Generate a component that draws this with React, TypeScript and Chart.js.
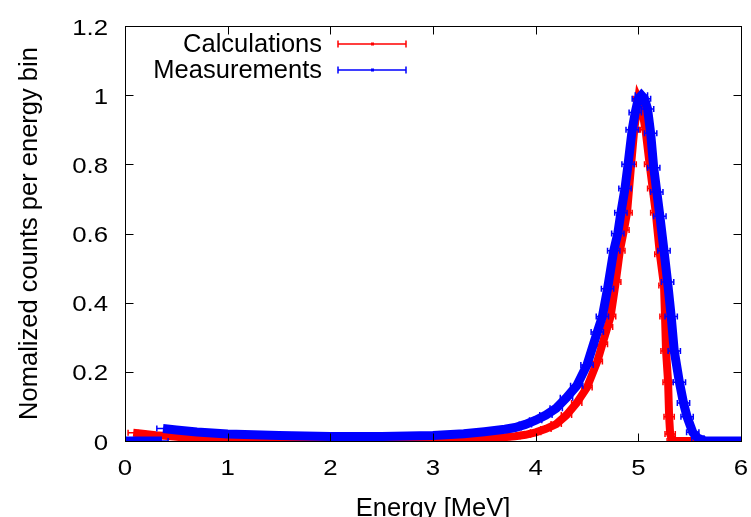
import React, { useEffect, useRef } from "react";
import { Chart, registerables } from "chart.js";

Chart.register(...registerables);

// ---- data ----
const xTickValues = [0, 1, 2, 3, 4, 5, 6];
const xTickLabels = ["0", "1", "2", "3", "4", "5", "6"];
const yTickValues = [0, 0.2, 0.4, 0.6, 0.8, 1, 1.2];
const yTickLabels = ["0", "0.2", "0.4", "0.6", "0.8", "1", "1.2"];

const calcEnergy = [0, 0.07, 0.075, 0.08, 0.15, 0.3, 0.5, 0.7, 1.0, 1.5, 2.0, 2.5, 3.0, 3.3, 3.5, 3.7, 3.8, 3.9, 4.0, 4.1, 4.2, 4.3, 4.4, 4.5, 4.6, 4.65, 4.7, 4.73, 4.78, 4.82, 4.86, 4.89, 4.93, 4.96, 5.0, 5.03, 5.07, 5.11, 5.14, 5.17, 5.21, 5.25, 5.26, 5.27, 5.29, 5.3, 5.31, 5.33, 5.5, 6.0];
const calcCounts = [0, 0, null, 0.024, 0.022, 0.017, 0.012, 0.008, 0.006, 0.004, 0.003, 0.003, 0.004, 0.005, 0.007, 0.011, 0.014, 0.018, 0.025, 0.035, 0.049, 0.075, 0.11, 0.155, 0.23, 0.28, 0.33, 0.36, 0.46, 0.55, 0.61, 0.66, 0.8, 0.9, 0.99, 0.97, 0.9, 0.8, 0.73, 0.66, 0.54, 0.45, 0.36, 0.26, 0.17, 0.07, 0.02, 0, 0, 0];

const measEnergy = [0, 0.36, 0.365, 0.37, 0.5, 0.7, 1.0, 1.5, 2.0, 2.5, 3.0, 3.3, 3.5, 3.7, 3.8, 3.9, 4.0, 4.1, 4.2, 4.3, 4.4, 4.5, 4.6, 4.65, 4.7, 4.76, 4.8, 4.83, 4.87, 4.9, 4.94, 4.97, 5.0, 5.03, 5.06, 5.09, 5.12, 5.15, 5.18, 5.21, 5.25, 5.285, 5.32, 5.35, 5.4, 5.44, 5.475, 5.53, 5.58, 5.65, 5.8, 6.0];
const measCounts = [0, 0, null, 0.036, 0.032, 0.026, 0.02, 0.016, 0.013, 0.013, 0.016, 0.021, 0.027, 0.034, 0.039, 0.048, 0.06, 0.075, 0.095, 0.125, 0.16, 0.22, 0.315, 0.36, 0.44, 0.55, 0.6, 0.66, 0.73, 0.8, 0.9, 0.95, 0.99, 1.0, 0.99, 0.96, 0.89, 0.79, 0.72, 0.65, 0.55, 0.46, 0.36, 0.26, 0.17, 0.11, 0.07, 0.025, 0.008, 0, 0, 0];

const calcEnergyErr = 0.05;
const measEnergyErr = 0.06;

const seriesNames = ["Calculations", "Measurements"];
const seriesColors = ["#ff0000", "#0000ff"];

const FONT = "'Liberation Sans', Arial, Helvetica, sans-serif";
const FS = 25.5;
const TICK_FS = 21.5;
const TICK_SX = 1.2;

const toPoints = (xs: number[], ys: (number | null)[]) => xs.map((x, i) => ({ x, y: ys[i] }));

function stretchedText(ctx: CanvasRenderingContext2D, text: string, x: number, y: number, align: CanvasTextAlign) {
  ctx.save();
  ctx.translate(x, y);
  ctx.scale(TICK_SX, 1);
  ctx.textAlign = align;
  ctx.textBaseline = "alphabetic";
  ctx.fillText(text, 0, 0);
  ctx.restore();
}

const gnuplotPlugin = {
  id: "gnuplotDecor",
  afterDatasetDraw(chart: any, args: any) {
    const ds = chart.data.datasets[args.index];
    const err = ds.xErr as number;
    const { ctx, chartArea } = chart;
    const xs = chart.scales.x;
    ctx.save();
    ctx.beginPath();
    ctx.rect(chartArea.left, chartArea.top, chartArea.right - chartArea.left, chartArea.bottom - chartArea.top);
    ctx.clip();
    ctx.strokeStyle = ds.borderColor;
    ctx.lineWidth = 1.5;
    args.meta.data.forEach((pt: any, i: number) => {
      const raw = ds.data[i];
      if (raw.y == null) return;
      const x0 = xs.getPixelForValue(raw.x - err);
      const x1 = xs.getPixelForValue(raw.x + err);
      ctx.beginPath();
      ctx.moveTo(x0, pt.y);
      ctx.lineTo(x1, pt.y);
      ctx.moveTo(x0, pt.y - 3);
      ctx.lineTo(x0, pt.y + 3);
      ctx.moveTo(x1, pt.y - 3);
      ctx.lineTo(x1, pt.y + 3);
      ctx.stroke();
    });
    ctx.restore();
  },
  afterDatasetsDraw(chart: any) {
    const { ctx, chartArea } = chart;
    const xs = chart.scales.x;
    const ys = chart.scales.y;
    const L = Math.round(chartArea.left) + 0.5;
    const R = Math.round(chartArea.right) + 0.5;
    const T = Math.round(chartArea.top) + 0.5;
    const B = Math.round(chartArea.bottom) + 0.5;
    ctx.save();
    ctx.strokeStyle = "#000";
    ctx.lineWidth = 1;
    ctx.strokeRect(L, T, R - L, B - T);
    const tl = 8;
    ctx.beginPath();
    xTickValues.forEach((v) => {
      const px = Math.round(xs.getPixelForValue(v)) + 0.5;
      ctx.moveTo(px, B);
      ctx.lineTo(px, B - tl);
      ctx.moveTo(px, T);
      ctx.lineTo(px, T + tl);
    });
    yTickValues.forEach((v) => {
      const py = Math.round(ys.getPixelForValue(v)) + 0.5;
      ctx.moveTo(L, py);
      ctx.lineTo(L + tl, py);
      ctx.moveTo(R, py);
      ctx.lineTo(R - tl, py);
    });
    ctx.stroke();

    // tick labels
    ctx.fillStyle = "#000";
    ctx.font = `${TICK_FS}px ${FONT}`;
    xTickValues.forEach((v, i) => {
      stretchedText(ctx, xTickLabels[i], xs.getPixelForValue(v), chartArea.bottom + 34, "center");
    });
    yTickValues.forEach((v, i) => {
      stretchedText(ctx, yTickLabels[i], chartArea.left - 17, ys.getPixelForValue(v) + 8.5, "right");
    });

    // legend
    ctx.font = `${FS}px ${FONT}`;
    ctx.textAlign = "right";
    ctx.textBaseline = "middle";
    const rows = [44, 70];
    seriesNames.forEach((name, i) => {
      const y = rows[i];
      ctx.fillStyle = "#000";
      ctx.fillText(name, 322, y + 1);
      ctx.strokeStyle = seriesColors[i];
      ctx.lineWidth = 1.5;
      const x0 = 338, x1 = 406;
      ctx.beginPath();
      ctx.moveTo(x0, y);
      ctx.lineTo(x1, y);
      ctx.moveTo(x0, y - 3.5);
      ctx.lineTo(x0, y + 3.5);
      ctx.moveTo(x1, y - 3.5);
      ctx.lineTo(x1, y + 3.5);
      ctx.stroke();
      ctx.fillStyle = seriesColors[i];
      ctx.fillRect(371, y - 1.5, 3, 3);
    });
    ctx.restore();
  },
};

export default function App() {
  const ref = useRef<HTMLCanvasElement | null>(null);
  useEffect(() => {
    if (!ref.current) return;
    const chart = new Chart(ref.current, {
      type: "scatter",
      data: {
        datasets: [
          {
            label: seriesNames[0],
            data: toPoints(calcEnergy, calcCounts),
            showLine: true,
            borderColor: seriesColors[0],
            backgroundColor: seriesColors[0],
            borderWidth: 8,
            pointRadius: 0,
            tension: 0,
            spanGaps: false,
            clip: 0,
            order: 1,
            xErr: calcEnergyErr,
          } as any,
          {
            label: seriesNames[1],
            data: toPoints(measEnergy, measCounts),
            showLine: true,
            borderColor: seriesColors[1],
            backgroundColor: seriesColors[1],
            borderWidth: 9,
            pointRadius: 0,
            tension: 0,
            spanGaps: false,
            clip: 0,
            order: 0,
            xErr: measEnergyErr,
          } as any,
        ],
      },
      options: {
        responsive: false,
        animation: false,
        layout: { padding: { top: 26, right: 10, left: 0, bottom: 0 } },
        plugins: { legend: { display: false }, tooltip: { enabled: false } },
        scales: {
          x: {
            type: "linear",
            min: 0,
            max: 6,
            grid: { display: false, drawTicks: false },
            border: { display: false },
            afterBuildTicks: (s: any) => {
              s.ticks = xTickValues.map((v) => ({ value: v }));
            },
            afterFit: (s: any) => {
              s.height = 76;
              s.paddingLeft = 0;
              s.paddingRight = 0;
            },
            ticks: { display: false },
            title: {
              display: true,
              text: "Energy [MeV]",
              color: "#000",
              font: { family: FONT, size: FS, lineHeight: 1 },
              padding: { top: 0, bottom: -5 },
            },
          },
          y: {
            type: "linear",
            min: 0,
            max: 1.2,
            grid: { display: false, drawTicks: false },
            border: { display: false },
            afterBuildTicks: (s: any) => {
              s.ticks = yTickValues.map((v) => ({ value: v }));
            },
            afterFit: (s: any) => {
              s.width = 125;
              s.paddingTop = 0;
              s.paddingBottom = 0;
            },
            ticks: { display: false },
            title: {
              display: true,
              text: "Nomalized counts per energy bin",
              color: "#000",
              font: { family: FONT, size: FS, lineHeight: 1 },
              padding: { top: 17, bottom: 0 },
            },
          },
        },
      },
      plugins: [gnuplotPlugin],
    });
    return () => chart.destroy();
  }, []);
  return (
    <div style={{ position: "absolute", left: 0, top: 0, width: 751, height: 517, background: "#fff" }}>
      <canvas ref={ref} width={751} height={517} style={{ display: "block" }} />
    </div>
  );
}
